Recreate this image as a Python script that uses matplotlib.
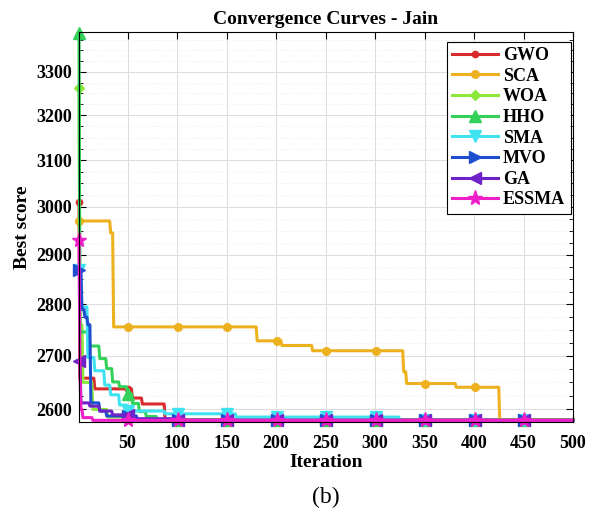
import matplotlib
matplotlib.use("Agg")
import matplotlib.pyplot as plt
from matplotlib.ticker import FixedLocator, NullFormatter, FixedFormatter
import numpy as np

plt.rcParams['font.family'] = ['Liberation Serif', 'DejaVu Serif']
plt.rcParams['font.weight'] = 'bold'

n_iter = 500

# change points (iteration, best score), held constant in between
gwo_it = [1, 2, 17, 55, 65, 88]
gwo_val = [3010, 2658, 2638, 2621, 2610, 2581]
sca_it = [1, 33, 36, 181, 206, 237, 329, 332, 382, 426]
sca_val = [2970, 2945, 2756, 2729, 2720, 2710, 2670, 2648, 2641, 2581]
woa_it = [1, 2, 5, 15, 30, 60]
woa_val = [3263, 2760, 2650, 2600, 2586, 2580]
hho_it = [1, 2, 12, 22, 29, 35, 42, 50, 55, 62, 69, 80]
hho_val = [3392, 2746, 2719, 2695, 2676, 2651, 2642, 2629, 2611, 2596, 2587, 2580]
sma_it = [1, 3, 10, 17, 27, 33, 42, 50, 88, 160, 325]
sma_val = [2868, 2795, 2697, 2672, 2645, 2627, 2608, 2597, 2592, 2586, 2580]
mvo_it = [1, 4, 7, 10, 13, 22, 29, 60]
mvo_val = [2868, 2790, 2775, 2760, 2612, 2597, 2588, 2580]
ga_it = [1, 3, 12, 22, 35, 55, 100]
ga_val = [2690, 2612, 2606, 2597, 2590, 2583, 2580]
essma_it = [1, 2, 3, 5, 15]
essma_val = [2930, 2660, 2600, 2585, 2580]

names = ['GWO', 'SCA', 'WOA', 'HHO', 'SMA', 'MVO', 'GA', 'ESSMA']
colors = ['#D92B2B', '#EDB120', '#8EE83A', '#33D15A', '#3FE3F0', '#1D4FD0', '#6F22C8', '#F01EC8']
markers = ['o', 'o', 'D', '^', 'v', '>', '<', '*']
msizes = [4.5, 5.5, 5.5, 8, 8, 8, 8, 11]

series = [(gwo_it, gwo_val), (sca_it, sca_val), (woa_it, woa_val), (hho_it, hho_val),
          (sma_it, sma_val), (mvo_it, mvo_val), (ga_it, ga_val), (essma_it, essma_val)]

it = np.arange(1, n_iter + 1)

fig = plt.figure(figsize=(5.95, 5.19), dpi=100)
ax = fig.add_axes([79/595, 1-422/519, (573-79)/595, (422-32)/519])

for (cp_it, cp_val), name, c, m, ms in zip(series, names, colors, markers, msizes):
    idx = np.searchsorted(cp_it, it, side='right') - 1
    y = np.array(cp_val)[idx]
    ax.plot(it, y, color=c, lw=2.2, marker=m, markersize=ms, markevery=50,
            markerfacecolor=c, markeredgecolor=c, label=name, clip_on=False)

ax.set_yscale('log')
ax.set_xlim(1, 500)
ax.set_ylim(2577, 3394)

yt = [2600, 2700, 2800, 2900, 3000, 3100, 3200, 3300]
ax.yaxis.set_major_locator(FixedLocator(yt))
ax.yaxis.set_major_formatter(FixedFormatter([str(v) for v in yt]))
ax.yaxis.set_minor_locator(FixedLocator(np.arange(2600, 3400, 25)))
ax.yaxis.set_minor_formatter(NullFormatter())
ax.set_xticks(np.arange(50, 501, 50))

ax.tick_params(which='both', direction='in', top=True, right=True, labelsize=13)
ax.tick_params(which='major', length=5)
ax.tick_params(which='minor', length=3)
ax.tick_params(axis='x', pad=9)
ax.tick_params(axis='y', pad=5)
for lab in ax.get_xticklabels() + ax.get_yticklabels():
    lab.set_fontweight('bold')

ax.grid(True, which='major', color='#dcdcdc', lw=0.7)
ax.grid(True, which='minor', axis='y', color='#ebebeb', lw=0.6, ls=':')
ax.set_axisbelow(True)
for s in ax.spines.values():
    s.set_linewidth(0.8)

ax.set_title('Convergence Curves - Jain', fontsize=14, fontweight='bold', pad=6)
ax.set_xlabel('Iteration', fontsize=14, fontweight='bold', labelpad=2)
ax.set_ylabel('Best score', fontsize=14, fontweight='bold', labelpad=4)

leg = ax.legend(loc='upper right', bbox_to_anchor=(0.995, 0.975), borderaxespad=0,
                fancybox=False, edgecolor='black', framealpha=1, handlelength=2.5,
                labelspacing=0.2, borderpad=0.3, handletextpad=0.3,
                prop={'weight': 'bold', 'size': 13})
leg.get_frame().set_linewidth(0.8)

fig.text(326/595, 1-497/519, '(b)', ha='center', va='center', fontsize=17, fontweight='normal')

fig.savefig('out.png', dpi=100)
